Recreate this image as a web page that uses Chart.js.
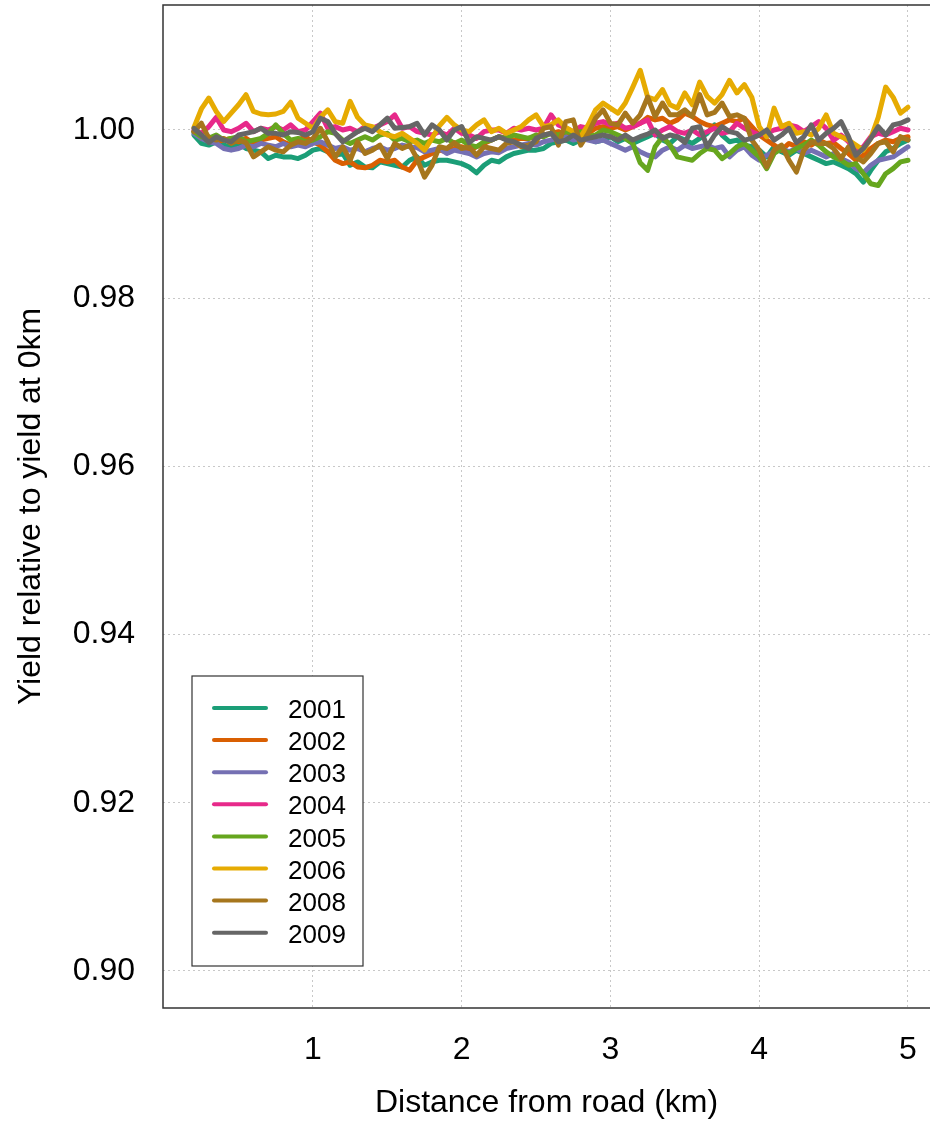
<!DOCTYPE html>
<html>
<head>
<meta charset="utf-8">
<script src="https://cdn.jsdelivr.net/npm/chart.js@4.4.1/dist/chart.umd.min.js"></script>
<style>
  html, body { margin: 0; padding: 0; background: #ffffff; }
  #wrap { width: 930px; height: 1121px; position: relative; }
</style>
</head>
<body>
<div id="wrap"><canvas id="chart"></canvas></div>
<script>
// distance from road (km)
const distance = [
  0.20, 0.25, 0.30, 0.35, 0.40, 0.45, 0.50, 0.55, 0.60, 0.65, 0.70, 0.75, 0.80, 0.85, 0.90, 0.95, 1.00,
  1.05, 1.10, 1.15, 1.20, 1.25, 1.30, 1.35, 1.40, 1.45, 1.50, 1.55, 1.60, 1.65, 1.70, 1.75, 1.80, 1.85, 1.90, 1.95, 2.00,
  2.05, 2.10, 2.15, 2.20, 2.25, 2.30, 2.35, 2.40, 2.45, 2.50, 2.55, 2.60, 2.65, 2.70, 2.75, 2.80, 2.85, 2.90, 2.95, 3.00,
  3.05, 3.10, 3.15, 3.20, 3.25, 3.30, 3.35, 3.40, 3.45, 3.50, 3.55, 3.60, 3.65, 3.70, 3.75, 3.80, 3.85, 3.90, 3.95, 4.00,
  4.05, 4.10, 4.15, 4.20, 4.25, 4.30, 4.35, 4.40, 4.45, 4.50, 4.55, 4.60, 4.65, 4.70, 4.75, 4.80, 4.85, 4.90, 4.95, 5.00
];

const years = ["2001", "2002", "2003", "2004", "2005", "2006", "2008", "2009"];
const colors = ["#1B9E77", "#D95F02", "#7570B3", "#E7298A", "#66A61E", "#E6AB02", "#A6761D", "#666666"];

const y2001 = [
  0.9994, 0.9984, 0.9982, 0.9986, 0.9982, 0.9980, 0.9984, 0.9978, 0.9976, 0.9974, 0.9966, 0.9970, 0.9968, 0.9968, 0.9966, 0.9970, 0.9976,
  0.9978, 0.9974, 0.9970, 0.9972, 0.9958, 0.9962, 0.9956, 0.9955, 0.9962, 0.9960, 0.9958, 0.9956, 0.9964, 0.9968, 0.9958, 0.9962, 0.9964, 0.9964, 0.9962, 0.9960,
  0.9956, 0.9949, 0.9958, 0.9964, 0.9962, 0.9968, 0.9972, 0.9974, 0.9976, 0.9976, 0.9978, 0.9984, 0.9986, 0.9988, 0.9984, 0.9988, 0.9990, 0.9986, 0.9988, 0.9992,
  0.9986, 0.9990, 0.9984, 0.9988, 0.9992, 0.9996, 0.9988, 0.9984, 0.9992, 0.9988, 0.9984, 0.9990, 0.9996, 1.0006, 0.9994, 0.9986, 0.9988, 0.9982, 0.9980, 0.9976,
  0.9968, 0.9980, 0.9974, 0.9970, 0.9976, 0.9972, 0.9968, 0.9964, 0.9960, 0.9962, 0.9958, 0.9954, 0.9948, 0.9938, 0.9952, 0.9964, 0.9974, 0.9978, 0.9984, 0.9988
];
const y2002 = [
  0.9998, 0.9990, 0.9992, 0.9986, 0.9988, 0.9990, 0.9986, 0.9990, 0.9984, 0.9988, 0.9990, 0.9992, 0.9986, 0.9982, 0.9988, 0.9992, 0.9986,
  0.9982, 0.9974, 0.9964, 0.9960, 0.9962, 0.9956, 0.9955, 0.9958, 0.9964, 0.9962, 0.9964, 0.9956, 0.9952, 0.9964, 0.9968, 0.9972, 0.9976, 0.9974, 0.9978, 0.9980,
  0.9976, 0.9980, 0.9984, 0.9988, 0.9992, 0.9990, 0.9988, 0.9990, 0.9990, 0.9992, 0.9994, 0.9996, 0.9998, 0.9994, 0.9998, 1.0000, 0.9996, 1.0002, 1.0004, 1.0002,
  1.0004, 1.0000, 1.0004, 1.0008, 1.0015, 1.0012, 1.0014, 1.0008, 1.0012, 1.0020, 1.0016, 1.0010, 1.0006, 1.0004, 1.0008, 1.0012, 1.0010, 1.0014, 1.0004, 0.9994,
  0.9988, 0.9982, 0.9976, 0.9984, 0.9980, 0.9986, 0.9982, 0.9988, 0.9984, 0.9985, 0.9978, 0.9972, 0.9964, 0.9970, 0.9978, 0.9984, 0.9988, 0.9986, 0.9990, 0.9992
];
const y2003 = [
  0.9996, 0.9990, 0.9986, 0.9984, 0.9978, 0.9976, 0.9978, 0.9982, 0.9980, 0.9984, 0.9982, 0.9980, 0.9984, 0.9980, 0.9982, 0.9980, 0.9984,
  0.9986, 0.9982, 0.9978, 0.9980, 0.9976, 0.9978, 0.9974, 0.9978, 0.9980, 0.9976, 0.9978, 0.9982, 0.9980, 0.9979, 0.9974, 0.9976, 0.9978, 0.9972, 0.9976, 0.9974,
  0.9972, 0.9968, 0.9972, 0.9974, 0.9973, 0.9978, 0.9980, 0.9982, 0.9984, 0.9982, 0.9986, 0.9988, 0.9990, 0.9992, 0.9988, 0.9990, 0.9988, 0.9986, 0.9988, 0.9984,
  0.9980, 0.9976, 0.9980, 0.9974, 0.9970, 0.9968, 0.9976, 0.9980, 0.9976, 0.9982, 0.9978, 0.9980, 0.9982, 0.9978, 0.9980, 0.9968, 0.9976, 0.9980, 0.9970, 0.9964,
  0.9970, 0.9974, 0.9978, 0.9974, 0.9978, 0.9972, 0.9976, 0.9972, 0.9968, 0.9972, 0.9966, 0.9962, 0.9954, 0.9949, 0.9958, 0.9964, 0.9966, 0.9968, 0.9974, 0.9980
];
const y2004 = [
  1.0000, 0.9996, 1.0004, 1.0015, 1.0000, 0.9998, 1.0002, 1.0008, 0.9998, 1.0002, 1.0000, 1.0004, 1.0000, 1.0006, 0.9998, 1.0000, 1.0010,
  1.0020, 1.0002, 1.0004, 1.0000, 1.0002, 0.9998, 1.0004, 1.0002, 1.0006, 1.0010, 1.0018, 1.0002, 1.0004, 0.9998, 0.9996, 0.9994, 0.9998, 0.9994, 1.0002, 0.9996,
  0.9994, 0.9990, 0.9998, 1.0000, 1.0000, 0.9996, 1.0002, 1.0000, 1.0002, 1.0000, 1.0002, 1.0018, 1.0006, 1.0002, 0.9998, 1.0004, 1.0002, 1.0008, 1.0010, 1.0006,
  1.0008, 1.0002, 1.0004, 1.0008, 1.0012, 0.9994, 1.0000, 1.0004, 0.9998, 0.9996, 1.0000, 0.9994, 0.9998, 1.0002, 0.9996, 0.9998, 1.0008, 1.0002, 0.9998, 0.9994,
  0.9996, 1.0000, 1.0002, 1.0006, 1.0004, 0.9998, 1.0004, 1.0010, 1.0002, 0.9988, 0.9994, 0.9986, 0.9976, 0.9980, 0.9992, 0.9996, 0.9994, 0.9998, 1.0002, 1.0000
];
const y2005 = [
  0.9998, 0.9992, 0.9990, 0.9994, 0.9988, 0.9990, 0.9992, 0.9986, 0.9988, 0.9990, 0.9996, 1.0006, 0.9996, 0.9988, 0.9990, 0.9986, 0.9988,
  0.9992, 0.9998, 0.9996, 0.9988, 0.9984, 0.9988, 0.9992, 0.9988, 0.9994, 0.9996, 0.9988, 0.9990, 0.9986, 0.9988, 0.9984, 0.9988, 0.9986, 0.9990, 0.9984, 0.9988,
  0.9982, 0.9980, 0.9986, 0.9988, 0.9992, 0.9990, 0.9994, 0.9992, 0.9990, 0.9994, 0.9992, 0.9996, 0.9994, 0.9998, 0.9996, 0.9998, 0.9992, 0.9994, 1.0000, 0.9998,
  0.9994, 0.9990, 0.9984, 0.9961, 0.9952, 0.9980, 0.9992, 0.9982, 0.9968, 0.9966, 0.9964, 0.9972, 0.9978, 0.9976, 0.9966, 0.9972, 0.9980, 0.9984, 0.9976, 0.9968,
  0.9954, 0.9972, 0.9978, 0.9972, 0.9978, 0.9982, 0.9988, 0.9982, 0.9974, 0.9968, 0.9964, 0.9958, 0.9960, 0.9948, 0.9936, 0.9934, 0.9948, 0.9954, 0.9962, 0.9964
];
const y2006 = [
  1.0003, 1.0025, 1.0038, 1.0022, 1.0010, 1.0020, 1.0030, 1.0042, 1.0022, 1.0019, 1.0018, 1.0019, 1.0022, 1.0033, 1.0014, 1.0008, 1.0002,
  1.0015, 1.0024, 1.0010, 1.0008, 1.0034, 1.0015, 1.0006, 1.0004, 0.9998, 0.9994, 0.9992, 0.9996, 0.9990, 0.9984, 0.9976, 0.9990, 1.0005, 1.0015, 1.0006, 1.0000,
  0.9998, 1.0006, 1.0012, 0.9998, 1.0002, 0.9996, 1.0000, 1.0004, 1.0012, 1.0018, 1.0004, 1.0006, 1.0012, 1.0003, 0.9998, 0.9992, 1.0006, 1.0024, 1.0032, 1.0026,
  1.0020, 1.0032, 1.0051, 1.0071, 1.0039, 1.0036, 1.0048, 1.0030, 1.0026, 1.0044, 1.0030, 1.0057, 1.0040, 1.0032, 1.0042, 1.0059, 1.0044, 1.0054, 1.0039, 1.0004,
  0.9992, 1.0026, 1.0004, 1.0008, 0.9996, 0.9998, 0.9994, 1.0002, 1.0018, 0.9996, 0.9992, 0.9988, 0.9982, 0.9976, 0.9990, 1.0015, 1.0051, 1.0039, 1.0020, 1.0027
];
const y2008 = [
  0.9998, 1.0008, 0.9990, 0.9988, 0.9990, 0.9984, 0.9988, 0.9985, 0.9968, 0.9974, 0.9980, 0.9976, 0.9974, 0.9982, 0.9986, 0.9984, 0.9990,
  1.0002, 0.9986, 0.9968, 0.9980, 0.9964, 0.9986, 0.9972, 0.9976, 0.9982, 0.9966, 0.9984, 0.9978, 0.9982, 0.9966, 0.9944, 0.9958, 0.9980, 0.9978, 0.9985, 0.9978,
  0.9980, 0.9970, 0.9980, 0.9978, 0.9976, 0.9984, 0.9986, 0.9980, 0.9982, 0.9986, 1.0002, 1.0004, 0.9982, 1.0010, 1.0012, 0.9982, 0.9996, 1.0014, 1.0024, 1.0008,
  1.0006, 1.0020, 1.0008, 1.0018, 1.0039, 1.0016, 1.0032, 1.0018, 1.0018, 1.0024, 1.0016, 1.0042, 1.0018, 1.0021, 1.0032, 1.0016, 1.0018, 1.0014, 0.9988, 0.9976,
  0.9956, 0.9976, 0.9982, 0.9964, 0.9950, 0.9976, 0.9986, 0.9984, 0.9984, 0.9978, 0.9966, 0.9980, 0.9968, 0.9962, 0.9972, 0.9984, 0.9986, 0.9974, 0.9992, 0.9988
];
const y2009 = [
  1.0002, 0.9994, 0.9985, 0.9992, 0.9988, 0.9986, 0.9994, 0.9996, 0.9998, 1.0002, 0.9996, 0.9996, 0.9994, 0.9998, 0.9997, 0.9994, 0.9998,
  1.0014, 1.0010, 0.9996, 0.9986, 0.9992, 0.9998, 1.0002, 0.9998, 1.0006, 1.0014, 1.0002, 1.0003, 1.0004, 1.0008, 0.9994, 1.0006, 1.0000, 0.9988, 1.0000, 1.0004,
  0.9985, 0.9992, 0.9990, 0.9988, 0.9992, 0.9988, 0.9986, 0.9982, 0.9978, 0.9990, 0.9994, 0.9996, 0.9986, 0.9988, 0.9994, 0.9988, 0.9990, 0.9992, 0.9994, 0.9992,
  0.9988, 0.9994, 0.9988, 0.9992, 0.9995, 1.0000, 0.9990, 0.9994, 0.9992, 0.9985, 1.0002, 1.0004, 0.9980, 0.9994, 1.0004, 0.9998, 0.9996, 0.9988, 0.9990, 0.9994,
  1.0000, 0.9988, 0.9994, 1.0002, 0.9985, 0.9992, 1.0006, 0.9988, 0.9996, 1.0002, 1.0010, 0.9992, 0.9970, 0.9978, 0.9990, 1.0004, 0.9994, 1.0006, 1.0008, 1.0012
];

const xTicks = [1, 2, 3, 4, 5];
const yTicks = [0.90, 0.92, 0.94, 0.96, 0.98, 1.00];

const series = [y2001, y2002, y2003, y2004, y2005, y2006, y2008, y2009];
const FONT = '"Liberation Sans", Arial, sans-serif';

// box round the plot and the legend in its lower left corner
const frameAndLegend = {
  id: "frameAndLegend",
  afterDatasetsDraw(chart) {
    const ctx = chart.ctx;
    const a = chart.chartArea;
    ctx.save();
    ctx.strokeStyle = "#333333";
    ctx.lineWidth = 1.5;
    ctx.beginPath();
    ctx.moveTo(a.right + 5, a.top);
    ctx.lineTo(a.left, a.top);
    ctx.lineTo(a.left, a.bottom);
    ctx.lineTo(a.right + 5, a.bottom);
    ctx.stroke();

    const bx = a.left + 29, bw = 171, bh = 290;
    const by = a.bottom - 42 - bh;
    ctx.fillStyle = "#ffffff";
    ctx.fillRect(bx, by, bw, bh);
    ctx.lineWidth = 1.2;
    ctx.strokeRect(bx, by, bw, bh);

    ctx.font = "26px " + FONT;
    ctx.textBaseline = "middle";
    ctx.textAlign = "left";
    years.forEach((yr, i) => {
      const y = by + 32 + i * 32.1;
      ctx.strokeStyle = colors[i];
      ctx.lineWidth = 4;
      ctx.lineCap = "round";
      ctx.beginPath();
      ctx.moveTo(bx + 22, y);
      ctx.lineTo(bx + 74, y);
      ctx.stroke();
      ctx.fillStyle = "#000000";
      ctx.fillText(yr, bx + 96, y + 3);
    });
    ctx.restore();
  }
};

new Chart(document.getElementById("chart").getContext("2d"), {
  type: "line",
  data: {
    datasets: years.map((yr, i) => ({
      label: yr,
      data: distance.map((d, j) => ({ x: d, y: series[i][j] })),
      borderColor: colors[i],
      backgroundColor: colors[i],
      borderWidth: 5,
      borderJoinStyle: "round",
      borderCapStyle: "round",
      pointRadius: 0,
      fill: false,
      tension: 0,
      order: years.length - i,
    })),
  },
  options: {
    responsive: true,
    maintainAspectRatio: false,
    animation: false,
    events: [],
    layout: { padding: { top: 5, right: 0, bottom: 0, left: 0 } },
    plugins: {
      legend: { display: false },
      tooltip: { enabled: false },
    },
    scales: {
      x: {
        type: "linear",
        min: -0.008,
        max: 5.148,
        afterBuildTicks: (s) => { s.ticks = xTicks.map((v) => ({ value: v })); },
        afterFit: (s) => { s.height = 113; s.paddingLeft = 0; s.paddingRight = 0; },
        ticks: {
          color: "#000000",
          font: { family: FONT, size: 32, lineHeight: 1 },
          padding: 26,
          maxRotation: 0,
          callback: (v) => String(v),
        },
        grid: { color: "#c8c8c8", lineWidth: 1, drawTicks: false },
        border: { display: false, dash: [2, 3] },
        title: {
          display: true,
          text: "Distance from road (km)",
          color: "#000000",
          font: { family: FONT, size: 32, lineHeight: 1 },
          padding: { top: 0, bottom: 2 },
        },
      },
      y: {
        type: "linear",
        min: 0.8956,
        max: 1.01486,
        afterBuildTicks: (s) => { s.ticks = yTicks.map((v) => ({ value: v })); },
        afterFit: (s) => { s.width = 163; s.paddingTop = 0; s.paddingBottom = 0; },
        ticks: {
          color: "#000000",
          font: { family: FONT, size: 32, lineHeight: 1 },
          padding: 28,
          callback: (v) => Number(v).toFixed(2),
        },
        grid: { color: "#c8c8c8", lineWidth: 1, drawTicks: false },
        border: { display: false, dash: [2, 3] },
        title: {
          display: true,
          text: "Yield relative to yield at 0km",
          color: "#000000",
          font: { family: FONT, size: 32, lineHeight: 1 },
          padding: { top: 15, bottom: 0 },
        },
      },
    },
  },
  plugins: [frameAndLegend],
});
</script>
</body>
</html>
